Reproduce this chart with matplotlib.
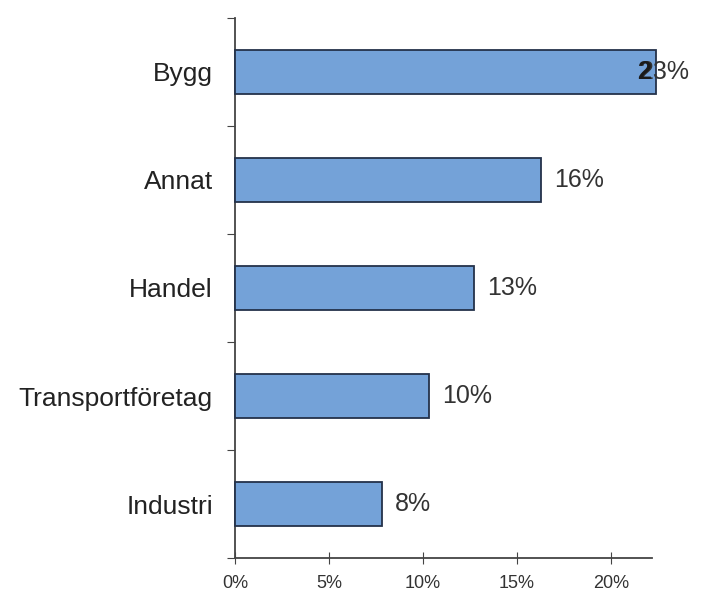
import matplotlib
matplotlib.use("Agg")
import matplotlib.pyplot as plt

plt.rcParams['font.family'] = ['Liberation Sans', 'DejaVu Sans']

# data (percent)
categories = ["Bygg", "Annat", "Handel", "Transportföretag", "Industri"]
values = [22.4, 16.3, 12.7, 10.3, 7.8]
value_labels = ["23%", "16%", "13%", "10%", "8%"]
xticks = [0, 5, 10, 15, 20]

fig = plt.figure(figsize=(7.08, 5.95), dpi=100)
ax = fig.add_axes([0.332, 0.062, 0.589, 0.908])

ypos = list(range(len(categories)))
ax.barh(ypos, values, height=0.41, color='#74a2d8', edgecolor='#24324a',
        linewidth=1.3, clip_on=False, zorder=3)

ax.set_ylim(len(categories) - 0.5, -0.5)
ax.set_xlim(0, 22.2)

ax.set_yticks([i - 0.5 for i in range(len(categories) + 1)])
ax.set_yticklabels([])
ax.set_yticks(ypos, minor=True)
ax.set_yticklabels(categories, minor=True, fontsize=19, color='#222222')
ax.tick_params(axis='y', which='minor', length=0, pad=16)
ax.tick_params(axis='y', which='major', direction='out', length=6, color='#444444')

ax.set_xticks(xticks)
ax.set_xticklabels(["%d%%" % t for t in xticks], fontsize=13, color='#333333')
ax.tick_params(axis='x', direction='inout', length=8, color='#444444', pad=8)

for s in ['top', 'right']:
    ax.spines[s].set_visible(False)
for s in ['left', 'bottom']:
    ax.spines[s].set_color('#444444')
    ax.spines[s].set_linewidth(1.3)

for i, (v, lab) in enumerate(zip(values, value_labels)):
    if i == 0:
        # overlapping label as in the original
        ax.text(21.55, i, lab, va='center', ha='left', fontsize=18,
                color='#333333', zorder=5, clip_on=False)
        ax.text(21.4, i, "2", va='center', ha='left', fontsize=18,
                color='#1a1a1a', fontweight='bold', zorder=6, clip_on=False)
    else:
        ax.text(v + 0.7, i, lab, va='center', ha='left', fontsize=18,
                color='#333333')

fig.savefig("out.png", dpi=100)
